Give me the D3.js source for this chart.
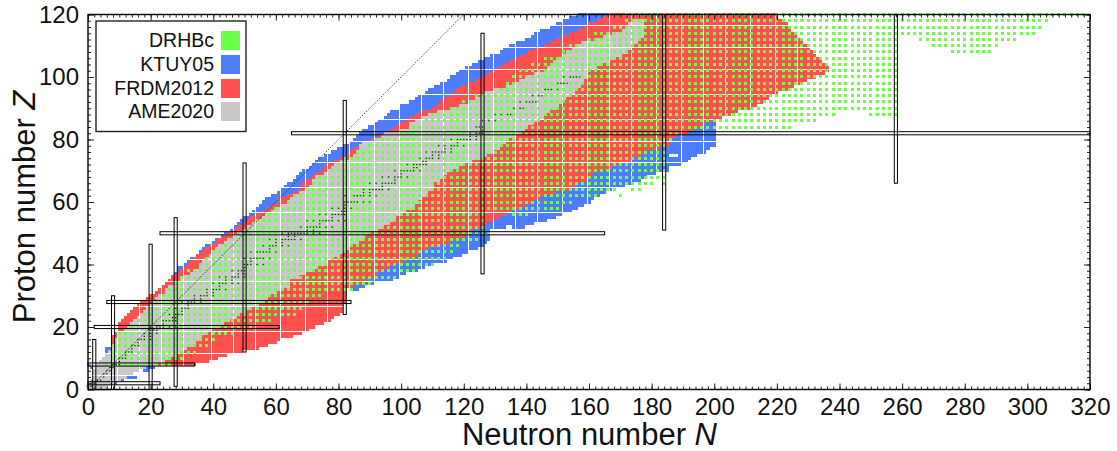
<!DOCTYPE html>
<html><head><meta charset="utf-8">
<script src="https://cdn.jsdelivr.net/npm/d3@7"></script>
<style>
html,body{margin:0;padding:0;background:#fff}
svg{display:block}
text{font-family:"Liberation Sans",Arial,sans-serif;fill:#111}
</style></head><body><svg id="c" width="1117" height="451"></svg>
<script>
// ---- data: N range per proton number Z ----
const ameLeft=[1,0,1,1,2,2,2,3,3,4, 5,6,7,8,8,9,9,10,11,12, 13,14,15,16,17,18,19,20,21,22, 23,25,25,26,28,30,31,33,34,36,
37,37,38,39,40,41,42,44,45,47, 48,50,51,53,54,56,57,59,61,62, 64,65,67,68,70,71,72,72,73,76, 77,78,79,81,84,85,86,87,87,88,
92,94,95,100,103,103,105,107,109,112, 116,119,122,124,126,127,130,134,137,138, 140,143,146,147,148,149,151,152,153,155, 156,158,162,165,168,171,172,173,174];
const ameRight=[7,6,8,10,12,14,16,18,22,24, 26,28,30,31,33,34,35,36,37,39, 41,43,45,47,48,50,52,54,55,57, 58,60,62,64,64,64,67,69,71,73,
75,76,78,80,81,83,84,86,87,88, 89,92,94,96,97,98,99,101,103,104, 105,106,107,108,109,110,110,112,113,114, 116,118,120,122,125,127,129,131,132,133,
134,136,137,139,140,142,144,145,146,147, 149,150,151,152,153,155,156,157,158,158, 159,159,160,162,164,166,168,170,172,173, 174,175,176,177,177,177,177,177,177];
const frdmFirstZ=8;
const frdmLeft=[8,8, 8,8,8,8,8,8,8,8,9,10, 10,10,11,12,13,14,15,16,17,19, 20,22,23,24,25,26,27,29,30,31, 32,33,34,35,37,38,39,41,42,44,
45,47,48,50,51,52,54,56,58,59, 61,61,64,66,68,69,69,70,72,73, 75,76,77,79,81,83,84,85,87,89, 91,93,95,97,99,100,102,103,105,107,
110,112,113,114,116,117,118,120,122,124, 126,128,130,131,133,135,137,139,141,143, 146,148,150,152,154,157,159,160,163,165,167];
const frdmRight=[34,38, 41,44,49,54,57,60,61,65,68,70, 72,75,77,78,80,81,81,81,82,82, 82,82,82,84,87,89,91,92,94,96, 98,100,104,105,106,108,112,115,118,120,
121,122,125,127,129,131,133,135,137,139, 142,144,146,149,153,155,156,159,160,161, 164,167,170,173,174,176,178,182,185,185, 186,187,191,193,195,197,200,202,205,207,
211,213,215,217,218,220,223,225,227,229, 232,235,236,236,235,234,233,232,231,230, 229,228,227,226,225,224,223,223,222,220,220];
const ktuyFirstZ=33;
const ktuyLeft=[28,28,28,30,28,29,29, 31,32,33,35,36,37,38,40,41,43, 44,46,47,48,49,50,52,53,54,55, 56,57,59,61,62,63,64,66,67,68, 69,71,72,73,74,76,78,80,82,84,
85,86,87,88,90,92,93,95,96,97, 100,100,103,105,106,108,109,111,113,115, 116,118,119,121,123,125,127,129,132,133, 135,137,140,142,143,145,148,150,152,154,157];
const ktuyRight=[88,91,97,99,101,105,107, 110,114,116,119,121,124,126,127,128,128, 128,128,139,142,146,149,151,154,156,158, 160,161,163,165,167,171,174,176,178,181, 185,185,189,191,192,194,197,198,200,200,
200,200,200,200,200,200,200,200,200,200, 200,200,200,200,200,200,200,200,200,200, 200,200,200,200,200,200,200,200,200,200, 200,200,200,200,200,200,200,200,200,200,200];
// extra KTUY pieces [Z, Nfirst, Nlast] and holes
const ktuyPieces=[[2,8,9],[3,11,11],[4,13,15],[6,18,19],[7,1,1],[7,19,21],[12,6,7],[13,6,7],[32,85,86]];
const ktuyHoles=[[52,134,135],[75,186,188]];
const drhbcZ=[8,10,12,14,16,18,20,22,24,26,28,30,32,34,36,38,40,42,44,46,48,50,52,54,56,58,60,62,64,66,68,70,72,74,76,78,80,82,84,86,88,90,92,94,96,98,100,102,104,106,108,110,112,114,116,118,120];
const drhbcLeft=[6,8,8,8,10,10,14,16,18,20,22,24,26,28,30,32,36,38,40,44,46,48,52,54,58,60,64,66,70,72,74,78,80,82,86,90,92,100,104,108,110,116,120,124,132,134,136,138,142,146,152,154,160,162,168,172,172];
const drhbcRight=[26,30,34,38,40,46,52,58,66,68,70,74,84,90,98,104,110,114,116,118,124,128,126,126,126,150,154,162,168,180,184,184,184,184,184,184,186,188,224,232,238,258,258,258,258,258,258,258,258,258,258,258,258,302,304,306,318];
const drhbcPieces=[[56,136,140],[62,170,170],[64,174,176],[66,184,184],[88,250,258],[108,276,288],[110,270,290],[112,266,296]];
// stable / long-lived nuclei: [Z, neutron numbers]
const stable=[[1,[0,1]],[2,[1,2]],[3,[3,4]],[4,[5]],[5,[5,6]],[6,[6,7]],[7,[7,8]],[8,[8,9,10]],[9,[10]],[10,[10,11,12]],[11,[12]],[12,[12,13,14]],[13,[14]],[14,[14,15,16]],[15,[16]],[16,[16,17,18,20]],[17,[18,20]],[18,[18,20,22]],[19,[20,21,22]],[20,[20,22,23,24,26,28]],
[21,[24]],[22,[24,25,26,27,28]],[23,[27,28]],[24,[26,28,29,30]],[25,[30]],[26,[28,30,31,32]],[27,[32]],[28,[30,32,33,34,36]],[29,[34,36]],[30,[34,36,37,38,40]],[31,[38,40]],[32,[38,40,41,42,44]],[33,[42]],[34,[40,42,43,44,46,48]],[35,[44,46]],[36,[42,44,46,47,48,50]],[37,[48,50]],[38,[46,48,49,50]],[39,[50]],[40,[50,51,52,54,56]],
[41,[52]],[42,[50,52,53,54,55,56,58]],[44,[52,54,55,56,57,58,60]],[45,[58]],[46,[56,58,59,60,62,64]],[47,[60,62]],[48,[58,60,62,63,64,65,66,68]],[49,[64,66]],[50,[62,64,65,66,67,68,69,70,72,74]],[51,[70,72]],[52,[68,70,71,72,73,74,76,78]],[53,[74]],[54,[70,72,74,75,76,77,78,80,82]],[55,[78]],[56,[74,76,78,79,80,81,82]],[57,[81,82]],[58,[78,80,82,84]],[59,[82]],[60,[82,83,84,85,86,88,90]],
[62,[82,85,86,87,88,90,92]],[63,[88,90]],[64,[88,90,91,92,93,94,96]],[65,[94]],[66,[90,92,94,95,96,97,98]],[67,[98]],[68,[94,96,98,99,100,102]],[69,[100]],[70,[98,100,101,102,103,104,106]],[71,[104,105]],[72,[102,104,105,106,107,108]],[73,[107,108]],[74,[106,108,109,110,112]],[75,[110,112]],[76,[108,110,111,112,113,114,116]],[77,[114,116]],[78,[112,114,116,117,118,120]],[79,[118]],[80,[116,118,119,120,121,122,124]],[81,[122,124]],[82,[122,124,125,126]],[83,[126]],
[84,[124,125,126]],[86,[126,128,130]],[88,[130,132,134,135]],[90,[136,138,139]],[92,[138,140,141,142,143]],[94,[142,144,145]],[96,[146,147,148,150]],[98,[150,151,152,153]],[100,[152,154,155,156,157]]];
// magic-number bands: vertical [N, Zbottom, Ztop], horizontal [Z, Nleft, Nright]
const magicN=[[2,0,16],[8,0,30],[20,0,46.5],[28,1,55],[50,12,72.5],[82,24,92.5],[126,37,114],[184,51,120],[258,66,120]];
const magicZ=[[2,0,23],[8,0,34],[20,2,61],[28,6,84],[50,23,165],[82,65,320]];
// white seams in the cell image
const seamN=[9.5,16.5,23.5,30.5,39.5,46.5,53.5,61.5,69.5,76.5,83.5,91.5,99.5,106.5,113.5,121.5,129.5,136.5,143.5,151.5,159.5,166.5,173.5,181.5,189.5,196.5,203.5,211.5,219.5,226.5];
const seamZ=[116.5,109.5,102.5,94.5,86.5,79.5,72.5,64.5,56.5,49.5,41.5,34.5,26.5,18.5,11.5,4.5];
const xMajor=[0,20,40,60,80,100,120,140,160,180,200,220,240,260,280,300,320];
const yMajor=[0,20,40,60,80,100,120];
const legendNames=["DRHBc","KTUY05","FRDM2012","AME2020"];
const colors={DRHBc:"#6bff47",KTUY05:"#4d7cff",FRDM2012:"#ff4f4f",AME2020:"#c9c9c9"};

const svg=d3.select("#c");
const x=d3.scaleLinear().domain([0,320]).range([88,1090]);
const y=d3.scaleLinear().domain([0,120]).range([389.5,14.5]);

function runs(left,right,z0){return left.map((l,i)=>({z:z0+i,a:l,b:right[i]}));}
function drawRuns(data,color,cls){
  svg.append("g").attr("class",cls).attr("fill",color).attr("shape-rendering","crispEdges")
   .selectAll("rect").data(data).join("rect")
   .attr("x",d=>x(d.a-0.5)).attr("width",d=>x(d.b+0.5)-x(d.a-0.5))
   .attr("y",d=>y(d.z+0.5)).attr("height",d=>y(d.z-0.5)-y(d.z+0.5));
}
const piece=p=>({z:p[0],a:p[1],b:p[2]});
drawRuns(runs(ktuyLeft,ktuyRight,ktuyFirstZ).concat(ktuyPieces.map(piece)),colors.KTUY05,"ktuy");
drawRuns(ktuyHoles.map(piece),"#fff","ktuy-holes");
drawRuns(runs(frdmLeft,frdmRight,frdmFirstZ),colors.FRDM2012,"frdm");
drawRuns(runs(ameLeft,ameRight,0),colors.AME2020,"ame");

// seams
svg.append("g").attr("stroke","#fff").attr("stroke-width",1).attr("shape-rendering","crispEdges")
 .selectAll("line.v").data(seamN).join("line").attr("x1",d=>x(d)).attr("x2",d=>x(d)).attr("y1",y(120.5)).attr("y2",y(-0.5));
svg.append("g").attr("stroke","#fff").attr("stroke-width",1).attr("shape-rendering","crispEdges")
 .selectAll("line.h").data(seamZ).join("line").attr("y1",d=>y(d)).attr("y2",d=>y(d)).attr("x1",x(0)).attr("x2",x(240));

// DRHBc even-even dots: one cell wide, every other cell
const dots=[];
drhbcZ.forEach((z,i)=>{d3.range(drhbcLeft[i],drhbcRight[i]+1,2).forEach(n=>dots.push([n,z]));});
drhbcPieces.forEach(p=>{d3.range(p[1],p[2]+1,2).forEach(n=>dots.push([n,p[0]]));});
svg.append("g").attr("fill",colors.DRHBc).attr("shape-rendering","crispEdges")
 .selectAll("rect").data(dots).join("rect")
 .attr("x",d=>Math.round(x(d[0])-1.5)).attr("y",d=>Math.round(y(d[1])-1.5)).attr("width",3).attr("height",3);

// N = Z
svg.append("line").attr("x1",x(0)).attr("y1",y(0)).attr("x2",x(120)).attr("y2",y(120))
 .attr("stroke","#333").attr("stroke-width",0.9).attr("stroke-dasharray","1.5 1.5");

// stable nuclei
const stab=stable.flatMap(s=>s[1].map(n=>[n,s[0]]));
svg.append("g").attr("fill","#222").selectAll("rect").data(stab).join("rect")
 .attr("x",d=>x(d[0])-0.7).attr("y",d=>y(d[1])-0.6).attr("width",1.4).attr("height",1.2);

// magic bands
const mg=svg.append("g").attr("fill","none").attr("stroke","#000").attr("stroke-width",1);
mg.selectAll("rect.n").data(magicN).join("rect").attr("x",d=>x(d[0]-0.5)).attr("width",d=>x(d[0]+0.5)-x(d[0]-0.5))
 .attr("y",d=>y(d[2])).attr("height",d=>y(d[1])-y(d[2]));
mg.selectAll("rect.z").data(magicZ).enter().append("rect").attr("y",d=>y(d[0]+0.5)).attr("height",d=>y(d[0]-0.5)-y(d[0]+0.5))
 .attr("x",d=>x(d[1])).attr("width",d=>x(d[2])-x(d[1]));

// axes
function ticks(axis,tr,size,vals,labels){
  const g=svg.append("g").attr("transform",tr).call(axis.tickValues(vals).tickSize(size).tickPadding(labels?8:0).tickFormat(labels?d3.format("d"):""));
  g.select(".domain").remove();
  g.selectAll(".tick line").attr("stroke","#222").attr("stroke-width",1);
  g.selectAll("text").attr("font-size",labels?24:0).attr("fill","#111");
  return g;
}
const xMinor=d3.range(0,321,2), yMinor=d3.range(0,121,2);
ticks(d3.axisBottom(x),`translate(0,${y(0)})`,-3,xMinor,false);
ticks(d3.axisTop(x),`translate(0,${y(120)})`,-3,xMinor,false);
ticks(d3.axisLeft(y),`translate(${x(0)},0)`,-3,yMinor,false);
ticks(d3.axisRight(y),`translate(${x(320)},0)`,-3,yMinor,false);
ticks(d3.axisTop(x),`translate(0,${y(120)})`,-6,xMajor,false);
ticks(d3.axisLeft(y),`translate(${x(320)},0)`,6,yMajor,false);
ticks(d3.axisBottom(x),`translate(0,${y(0)})`,-6,xMajor,true);
ticks(d3.axisLeft(y),`translate(${x(0)},0)`,-6,yMajor,true).selectAll("text").attr("x",-9);

svg.append("rect").attr("x",x(0)).attr("y",y(120)).attr("width",x(320)-x(0)).attr("height",y(0)-y(120))
 .attr("fill","none").attr("stroke","#000").attr("stroke-width",1.4);

// axis labels
const xl=svg.append("text").attr("x",589.5).attr("y",445).attr("text-anchor","middle").attr("font-size",31);
xl.append("tspan").text("Neutron number ");
xl.append("tspan").attr("font-style","italic").text("N");
const yl=svg.append("text").attr("transform","translate(35,207) rotate(-90)").attr("text-anchor","middle").attr("font-size",31);
yl.append("tspan").text("Proton number ");
yl.append("tspan").attr("font-style","italic").text("Z");

// legend
const lg=svg.append("g");
lg.append("rect").attr("x",96).attr("y",21).attr("width",150).attr("height",110.5).attr("fill","#fff").attr("stroke","#222").attr("stroke-width",1.4);
const swY=[31,55,79,102];
legendNames.forEach((n,i)=>{
  lg.append("rect").attr("x",221).attr("y",swY[i]).attr("width",19).attr("height",19).attr("fill",colors[n]);
  lg.append("text").attr("x",214).attr("y",swY[i]+16).attr("text-anchor","end").attr("font-size",19.5).text(n);
});
</script></body></html>
